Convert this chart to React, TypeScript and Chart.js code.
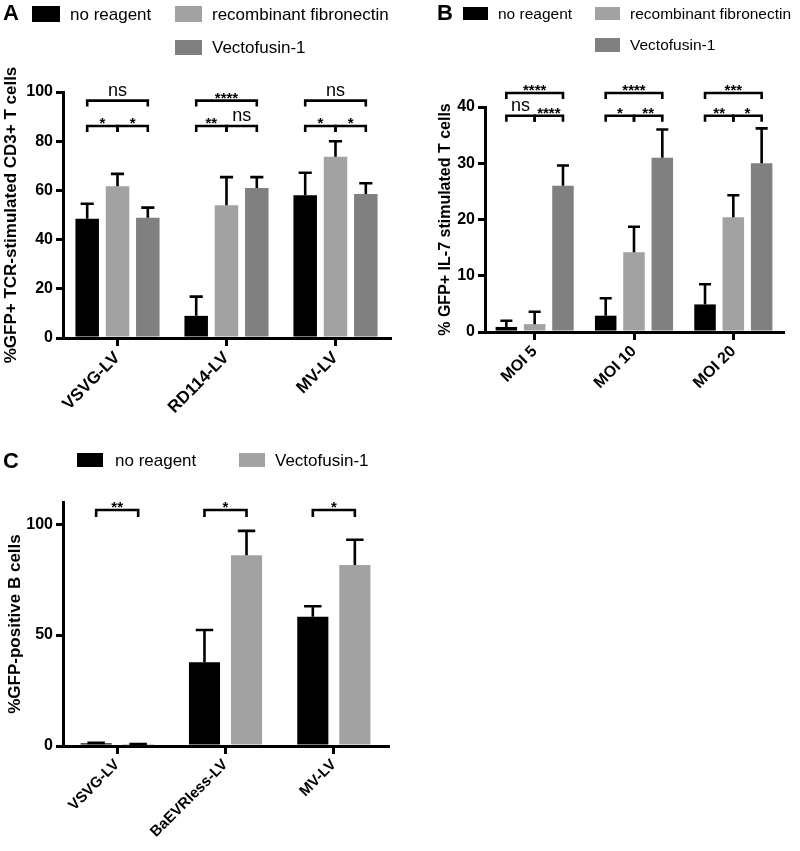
import React, { useEffect, useRef } from "react";
import { Chart, registerables } from "chart.js";
Chart.register(...registerables);

const FONT = '"Liberation Sans", Arial, Helvetica, sans-serif';

const BLACK = "#000000";
const LIGHT = "#a2a2a2";
const DARK = "#808080";

// ---------- Panel A ----------
const categoriesA = ["VSVG-LV", "RD114-LV", "MV-LV"];
const namesA = ["no reagent", "recombinant fibronectin", "Vectofusin-1"];
const noReagentA = [48.5, 9.0, 58.0];
const fibronectinA = [61.7, 54.0, 73.7];
const vectofusinA = [48.9, 61.0, 58.5];
const noReagentErrA = [6.1, 7.8, 9.2];
const fibronectinErrA = [5.0, 11.4, 6.3];
const vectofusinErrA = [4.1, 4.4, 4.4];
const yTitleA = "%GFP+ TCR-stimulated CD3+ T cells";
// [category, fromSeries, toSeries, bracket level (data units), label]
const sigA: [number, number, number, number, string][] = [
  [0, 0, 2, 96.5, "ns"], [0, 0, 1, 86.2, "*"], [0, 1, 2, 86.2, "*"],
  [1, 0, 2, 96.5, "****"], [1, 0, 1, 86.2, "**"], [1, 1, 2, 86.2, "ns"],
  [2, 0, 2, 96.5, "ns"], [2, 0, 1, 86.2, "*"], [2, 1, 2, 86.2, "*"],
];

// ---------- Panel B ----------
const categoriesB = ["MOI 5", "MOI 10", "MOI 20"];
const namesB = ["no reagent", "recombinant fibronectin", "Vectofusin-1"];
const noReagentB = [0.9, 2.9, 4.9];
const fibronectinB = [1.4, 14.2, 20.4];
const vectofusinB = [26.0, 31.0, 30.0];
const noReagentErrB = [1.1, 3.1, 3.6];
const fibronectinErrB = [2.2, 4.5, 3.9];
const vectofusinErrB = [3.6, 5.0, 6.2];
const yTitleB = "% GFP+ IL-7 stimulated T cells";
const sigB: [number, number, number, number, string][] = [
  [0, 0, 2, 42.5, "****"], [0, 0, 1, 38.45, "ns"], [0, 1, 2, 38.45, "****"],
  [1, 0, 2, 42.5, "****"], [1, 0, 1, 38.45, "*"], [1, 1, 2, 38.45, "**"],
  [2, 0, 2, 42.5, "***"], [2, 0, 1, 38.45, "**"], [2, 1, 2, 38.45, "*"],
];

// ---------- Panel C ----------
const categoriesC = ["VSVG-LV", "BaEVRless-LV", "MV-LV"];
const namesC = ["no reagent", "Vectofusin-1"];
const noReagentC = [1.2, 37.8, 58.3];
const vectofusinC = [0.4, 86.0, 81.6];
const noReagentErrC = [0.2, 14.5, 4.7];
const vectofusinErrC = [0.5, 11.0, 11.4];
const yTitleC = "%GFP-positive B cells";
const sigC: [number, number, number, number, string][] = [
  [0, 0, 1, 106.4, "**"], [1, 0, 1, 106.4, "*"], [2, 0, 1, 106.4, "*"],
];

const annotPlugin = {
  id: "annot",
  afterDatasetsDraw(chart: any) {
    const opts = chart.options.plugins.annot || {};
    const ctx = chart.ctx;
    const ys = chart.scales.y;
    ctx.save();
    ctx.strokeStyle = "#000";
    ctx.fillStyle = "#000";
    ctx.lineWidth = 2.6;
    ctx.lineCap = "butt";
    ctx.lineJoin = "miter";
    chart.data.datasets.forEach((ds: any, i: number) => {
      const meta = chart.getDatasetMeta(i);
      meta.data.forEach((bar: any, j: number) => {
        const p = bar.getProps(["x", "y", "width"], true);
        const ey = ys.getPixelForValue(ds.data[j] + ds.errors[j]);
        const cw = p.width * 0.28;
        ctx.beginPath();
        ctx.moveTo(p.x, p.y);
        ctx.lineTo(p.x, ey);
        ctx.moveTo(p.x - cw, ey);
        ctx.lineTo(p.x + cw, ey);
        ctx.stroke();
      });
    });
    const leg = opts.leg || 6;
    (opts.sig || []).forEach((s: any) => {
      const [cat, from, to, level, label] = s;
      const x1 = chart.getDatasetMeta(from).data[cat].x;
      const x2 = chart.getDatasetMeta(to).data[cat].x;
      const ly = ys.getPixelForValue(level);
      ctx.beginPath();
      ctx.moveTo(x1, ly + leg);
      ctx.lineTo(x1, ly);
      ctx.lineTo(x2, ly);
      ctx.lineTo(x2, ly + leg);
      ctx.stroke();
      ctx.textAlign = "center";
      ctx.textBaseline = "alphabetic";
      if (label === "ns") {
        ctx.font = `18px ${FONT}`;
        ctx.fillText(label, (x1 + x2) / 2, ly - 5);
      } else {
        ctx.font = `bold 15px ${FONT}`;
        ctx.fillText(label, (x1 + x2) / 2, ly + 2);
      }
    });
    ctx.restore();
  },
};

function makeConfig(p: any) {
  return {
    type: "bar",
    data: {
      labels: p.categories,
      datasets: p.series.map((s: any) => ({
        label: s.name,
        data: s.data,
        errors: s.errors,
        backgroundColor: s.color,
        borderWidth: 0,
        categoryPercentage: p.catPct,
        barPercentage: p.barPct,
      })),
    },
    plugins: [annotPlugin],
    options: {
      responsive: false,
      maintainAspectRatio: false,
      animation: false,
      layout: { padding: p.padding },
      plugins: {
        legend: { display: false },
        tooltip: { enabled: false },
        annot: { sig: p.sig, leg: p.leg },
      },
      scales: {
        x: {
          offset: true,
          grid: {
            display: true,
            offset: false,
            drawOnChartArea: false,
            drawTicks: true,
            tickLength: 8,
            lineWidth: 3,
            color: "#000",
          },
          border: { display: true, width: 3, color: "#000" },
          ticks: {
            autoSkip: false,
            minRotation: 45,
            maxRotation: 45,
            color: "#000",
            padding: 2,
            font: { family: FONT, size: p.xTickSize, weight: "bold" },
          },
          afterFit: (scale: any) => {
            scale.height = p.xHeight;
          },
        },
        y: {
          min: 0,
          max: p.yMax,
          grid: {
            display: true,
            drawOnChartArea: false,
            drawTicks: true,
            tickLength: 7,
            lineWidth: 3,
            color: "#000",
          },
          border: { display: true, width: 3, color: "#000" },
          ticks: {
            stepSize: p.yStep,
            color: "#000",
            padding: 3,
            font: { family: FONT, size: p.yTickSize, weight: "bold" },
          },
          afterBuildTicks: (scale: any) => {
            scale.ticks = scale.ticks.filter(
              (t: any) => Math.abs(t.value / p.yStep - Math.round(t.value / p.yStep)) < 1e-6
            );
          },
          title: {
            display: true,
            text: p.yTitle,
            color: "#000",
            font: { family: FONT, size: p.titleSize, weight: "bold" },
            padding: { top: p.titlePad, bottom: 0 },
          },
          afterFit: (scale: any) => {
            scale.width = p.yWidth;
          },
        },
      },
    },
  };
}

function ChartCanvas({ left, top, width, height, build }: any) {
  const ref = useRef<HTMLCanvasElement | null>(null);
  useEffect(() => {
    const chart = new Chart(ref.current as any, build() as any);
    return () => chart.destroy();
  }, []);
  return (
    <canvas
      ref={ref}
      width={width}
      height={height}
      style={{ position: "absolute", left, top, width, height }}
    />
  );
}

function Swatch({ left, top, w, h, color, text, gap, size }: any) {
  return (
    <div
      style={{
        position: "absolute",
        left,
        top,
        height: h,
        display: "flex",
        alignItems: "center",
        whiteSpace: "nowrap",
      }}
    >
      <div style={{ width: w, height: h, background: color, flex: "none" }} />
      <span style={{ marginLeft: gap, fontSize: size, lineHeight: 1, color: "#000" }}>{text}</span>
    </div>
  );
}

function PanelLetter({ left, top, text }: any) {
  return (
    <div
      style={{
        position: "absolute",
        left,
        top,
        fontSize: 22,
        lineHeight: 1,
        fontWeight: "bold",
        color: "#000",
      }}
    >
      {text}
    </div>
  );
}

export default function App() {
  const buildA = () =>
    makeConfig({
      categories: categoriesA,
      series: [
        { name: namesA[0], data: noReagentA, errors: noReagentErrA, color: BLACK },
        { name: namesA[1], data: fibronectinA, errors: fibronectinErrA, color: LIGHT },
        { name: namesA[2], data: vectofusinA, errors: vectofusinErrA, color: DARK },
      ],
      sig: sigA,
      leg: 6,
      yMax: 100,
      yStep: 20,
      yTitle: yTitleA,
      titleSize: 17,
      titlePad: 1,
      padding: { left: 0, top: 92, right: 10, bottom: 2 },
      yWidth: 63,
      xHeight: 100,
      catPct: 0.834,
      barPct: 0.776,
      yTickSize: 16,
      xTickSize: 17,
    });
  const buildB = () =>
    makeConfig({
      categories: categoriesB,
      series: [
        { name: namesB[0], data: noReagentB, errors: noReagentErrB, color: BLACK },
        { name: namesB[1], data: fibronectinB, errors: fibronectinErrB, color: LIGHT },
        { name: namesB[2], data: vectofusinB, errors: vectofusinErrB, color: DARK },
      ],
      sig: sigB,
      leg: 6,
      yMax: 40,
      yStep: 10,
      yTitle: yTitleB,
      titleSize: 16,
      titlePad: 1,
      padding: { left: 35, top: 107, right: 17, bottom: 8 },
      yWidth: 50,
      xHeight: 100,
      catPct: 0.855,
      barPct: 0.76,
      yTickSize: 16,
      xTickSize: 16,
    });
  const buildC = () =>
    makeConfig({
      categories: categoriesC,
      series: [
        { name: namesC[0], data: noReagentC, errors: noReagentErrC, color: BLACK },
        { name: namesC[1], data: vectofusinC, errors: vectofusinErrC, color: LIGHT },
      ],
      sig: sigC,
      leg: 7,
      yMax: 110,
      yStep: 50,
      yTitle: yTitleC,
      titleSize: 17,
      titlePad: 5,
      padding: { left: 0, top: 62, right: 12, bottom: 5 },
      yWidth: 63,
      xHeight: 100,
      catPct: 0.776,
      barPct: 0.74,
      yTickSize: 16,
      xTickSize: 15,
    });

  return (
    <div
      style={{
        position: "absolute",
        left: 0,
        top: 0,
        width: 800,
        height: 851,
        background: "#fff",
        fontFamily: FONT,
        overflow: "hidden",
      }}
    >
      <ChartCanvas left={0} top={0} width={400} height={440} build={buildA} />
      <ChartCanvas left={400} top={0} width={400} height={440} build={buildB} />
      <ChartCanvas left={0} top={440} width={400} height={411} build={buildC} />

      <PanelLetter left={3} top={2} text="A" />
      <Swatch left={32} top={6} w={28} h={16} color={BLACK} text={namesA[0]} gap={10} size={17} />
      <Swatch left={175} top={6} w={27} h={16} color={LIGHT} text={namesA[1]} gap={10} size={17} />
      <Swatch left={175} top={40} w={27} h={15} color={DARK} text={namesA[2]} gap={10} size={17} />

      <PanelLetter left={437} top={2} text="B" />
      <Swatch left={463} top={7} w={25} h={13} color={BLACK} text={namesB[0]} gap={10} size={15.5} />
      <Swatch left={595} top={7} w={25} h={13} color={LIGHT} text={namesB[1]} gap={10} size={15.5} />
      <Swatch left={595} top={38} w={25} h={14} color={DARK} text={namesB[2]} gap={10} size={15.5} />

      <PanelLetter left={3} top={450} text="C" />
      <Swatch left={77} top={453} w={26} h={14} color={BLACK} text={namesC[0]} gap={12} size={17} />
      <Swatch left={239} top={453} w={26} h={14} color={LIGHT} text={namesC[1]} gap={10} size={17} />
    </div>
  );
}
